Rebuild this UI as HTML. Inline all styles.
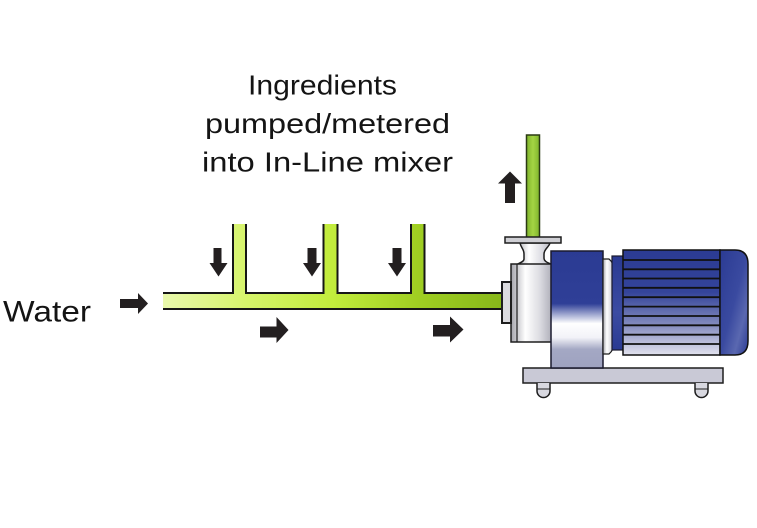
<!DOCTYPE html>
<html>
<head>
<meta charset="utf-8">
<style>
  html,body{margin:0;padding:0;background:#fff;}
  svg{display:block;}
  text{font-family:"Liberation Sans", Arial, sans-serif; fill:#141414;}
</style>
</head>
<body>
<svg width="757" height="528" viewBox="0 0 757 528" xmlns="http://www.w3.org/2000/svg">
  <defs>
    <linearGradient id="pipeG" gradientUnits="userSpaceOnUse" x1="163" y1="0" x2="502" y2="0">
      <stop offset="0" stop-color="#e9f8ac"/>
      <stop offset="0.25" stop-color="#d6f46a"/>
      <stop offset="0.5" stop-color="#c2ec3c"/>
      <stop offset="0.75" stop-color="#a0cf22"/>
      <stop offset="1" stop-color="#88b81a"/>
    </linearGradient>
    <linearGradient id="outG" x1="0" y1="0" x2="1" y2="0">
      <stop offset="0" stop-color="#7fb52c"/>
      <stop offset="0.5" stop-color="#a4d444"/>
      <stop offset="1" stop-color="#7fb52c"/>
    </linearGradient>
    <linearGradient id="silverH" x1="0" y1="0" x2="1" y2="0">
      <stop offset="0" stop-color="#a4a4ac"/>
      <stop offset="0.35" stop-color="#ffffff"/>
      <stop offset="0.7" stop-color="#dcdce2"/>
      <stop offset="1" stop-color="#aeaeb8"/>
    </linearGradient>
    <linearGradient id="silverV" x1="0" y1="0" x2="0" y2="1">
      <stop offset="0" stop-color="#b8b8c0"/>
      <stop offset="0.5" stop-color="#ffffff"/>
      <stop offset="1" stop-color="#b0b0bc"/>
    </linearGradient>
    <linearGradient id="bracketG" x1="0" y1="0" x2="0" y2="1">
      <stop offset="0" stop-color="#2b3b93"/>
      <stop offset="0.45" stop-color="#2f3f97"/>
      <stop offset="0.62" stop-color="#ffffff"/>
      <stop offset="0.74" stop-color="#f2f2f8"/>
      <stop offset="0.84" stop-color="#a4a8c4"/>
      <stop offset="1" stop-color="#9ea2c0"/>
    </linearGradient>
    <linearGradient id="motorG" x1="0" y1="0" x2="0" y2="1">
      <stop offset="0" stop-color="#2b3b93"/>
      <stop offset="0.4" stop-color="#34449a"/>
      <stop offset="0.7" stop-color="#8088bc"/>
      <stop offset="1" stop-color="#e2e2ee"/>
    </linearGradient>
    <linearGradient id="capG" x1="0" y1="0" x2="1" y2="1">
      <stop offset="0" stop-color="#2b3b93"/>
      <stop offset="0.5" stop-color="#3a4aa0"/>
      <stop offset="0.75" stop-color="#5a68b0"/>
      <stop offset="1" stop-color="#2b3b93"/>
    </linearGradient>
    <linearGradient id="ringG" x1="0" y1="0" x2="0" y2="1">
      <stop offset="0" stop-color="#2a3a92"/>
      <stop offset="0.6" stop-color="#3b4ba2"/>
      <stop offset="1" stop-color="#2a3a92"/>
    </linearGradient>
  </defs>

  <!-- Title text -->
  <text x="248" y="94.5" font-size="28" textLength="149" lengthAdjust="spacingAndGlyphs">Ingredients</text>
  <text x="205" y="133" font-size="28" textLength="245" lengthAdjust="spacingAndGlyphs">pumped/metered</text>
  <text x="202" y="171.5" font-size="28" textLength="251" lengthAdjust="spacingAndGlyphs">into In-Line mixer</text>

  <!-- Water label -->
  <text x="3" y="321.5" font-size="30" textLength="88" lengthAdjust="spacingAndGlyphs">Water</text>

  <!-- Main pipe fill -->
  <path d="M163,293 L233,293 L233,224 L246,224 L246,293 L323.5,293 L323.5,224 L337.5,224 L337.5,293 L411,293 L411,224 L424.5,224 L424.5,293 L503,293 L503,309 L163,309 Z" fill="url(#pipeG)"/>
  <!-- Pipe outlines -->
  <path d="M163,293 L233,293 L233,224 M246,224 L246,293 L323.5,293 L323.5,224 M337.5,224 L337.5,293 L411,293 L411,224 M424.5,224 L424.5,293 L503,293 M163,309 L503,309" fill="none" stroke="#161616" stroke-width="2"/>

  <!-- Outlet pipe -->
  <rect x="526.5" y="135" width="13" height="103" fill="url(#outG)" stroke="#2b3a14" stroke-width="1.5"/>

  <!-- Arrows -->
  <g fill="#231f20">
    <!-- water inlet arrow -->
    <polygon points="120,299 138,299 138,293 148,303.5 138,314 138,308 120,308"/>
    <!-- down arrows -->
    <polygon points="213.5,248 221.5,248 221.5,263 227.5,263 218.5,276.5 209.5,263 213.5,263"/>
    <polygon points="307.5,248 316.5,248 316.5,263 321,263 312,276.5 303,263 307.5,263"/>
    <polygon points="392.5,248 401.5,248 401.5,263 406,263 397,276.5 388,263 392.5,263"/>
    <!-- right arrows below pipe -->
    <polygon points="260,326.5 276.5,326.5 276.5,317 288.5,330 276.5,343 276.5,337.5 260,337.5"/>
    <polygon points="433,325 450,325 450,316.5 463.5,329.5 450,342.5 450,336.5 433,336.5"/>
    <!-- up arrow -->
    <polygon points="505,203 515,203 515,183.5 522,183.5 510,171.5 498,183.5 505,183.5"/>
  </g>

  <!-- Base plate -->
  <rect x="523" y="368" width="200" height="15" fill="#c9c9d6" stroke="#1e1e1e" stroke-width="1.5"/>
  <!-- Feet -->
  <path d="M537,383 L537,391 A6.5,6.5 0 0 0 550,391 L550,383" fill="#d8d8e0" stroke="#1e1e1e" stroke-width="1.5"/>
  <line x1="537" y1="389" x2="550" y2="389" stroke="#1e1e1e" stroke-width="1"/>
  <path d="M695,383 L695,391 A6.5,6.5 0 0 0 708,391 L708,383" fill="#d8d8e0" stroke="#1e1e1e" stroke-width="1.5"/>
  <line x1="695" y1="389" x2="708" y2="389" stroke="#1e1e1e" stroke-width="1"/>

  <!-- Pump neck -->
  <path d="M520,243 C521,248 524,249 524,254 L524,259 C524,262 519,263 516,265 L553,265 C549,263 544,262 544,258 L544,254 C544,249 549,247 550,243 Z" fill="url(#silverH)" stroke="#1e1e1e" stroke-width="1.5"/>
  <!-- Flange -->
  <rect x="505" y="237" width="56" height="6" fill="#cfcfd4" stroke="#1e1e1e" stroke-width="1.5"/>

  <!-- Casing -->
  <rect x="511" y="264" width="41" height="78" fill="url(#silverH)" stroke="#1e1e1e" stroke-width="1.5"/>
  <line x1="517" y1="264" x2="517" y2="342" stroke="#1e1e1e" stroke-width="1.2"/>
  <!-- Inlet stub -->
  <rect x="502" y="282" width="9" height="41" fill="#dcdce0" stroke="#1e1e1e" stroke-width="2"/>

  <!-- Blue bracket -->
  <rect x="551" y="251" width="52" height="117" fill="url(#bracketG)" stroke="#1a1a2e" stroke-width="1.5"/>

  <!-- Coupling -->
  <path d="M603,259 L609,259 Q614,263 614,270 L614,342 Q614,350 609,354 L603,354 Z" fill="url(#silverH)" stroke="#1e1e1e" stroke-width="1.2"/>
  <rect x="612" y="256" width="11" height="94" fill="url(#ringG)" stroke="#1a1a2e" stroke-width="1.2"/>

  <!-- Motor body -->
  <rect x="623" y="250" width="97" height="105" fill="url(#motorG)" stroke="#111" stroke-width="1.5"/>
  <g stroke="#111" stroke-width="1.8">
    <line x1="623" y1="260" x2="720" y2="260"/>
    <line x1="623" y1="269.3" x2="720" y2="269.3"/>
    <line x1="623" y1="278.5" x2="720" y2="278.5"/>
    <line x1="623" y1="287.8" x2="720" y2="287.8"/>
    <line x1="623" y1="297.2" x2="720" y2="297.2"/>
    <line x1="623" y1="306.6" x2="720" y2="306.6"/>
    <line x1="623" y1="316" x2="720" y2="316"/>
    <line x1="623" y1="325.3" x2="720" y2="325.3"/>
    <line x1="623" y1="334.7" x2="720" y2="334.7"/>
    <line x1="623" y1="344" x2="720" y2="344"/>
  </g>
  <!-- End cap -->
  <path d="M720,250 L735,250 Q748,250 748,264 L748,341 Q748,355 735,355 L720,355 Z" fill="url(#capG)" stroke="#111" stroke-width="1.5"/>
</svg>
</body>
</html>
